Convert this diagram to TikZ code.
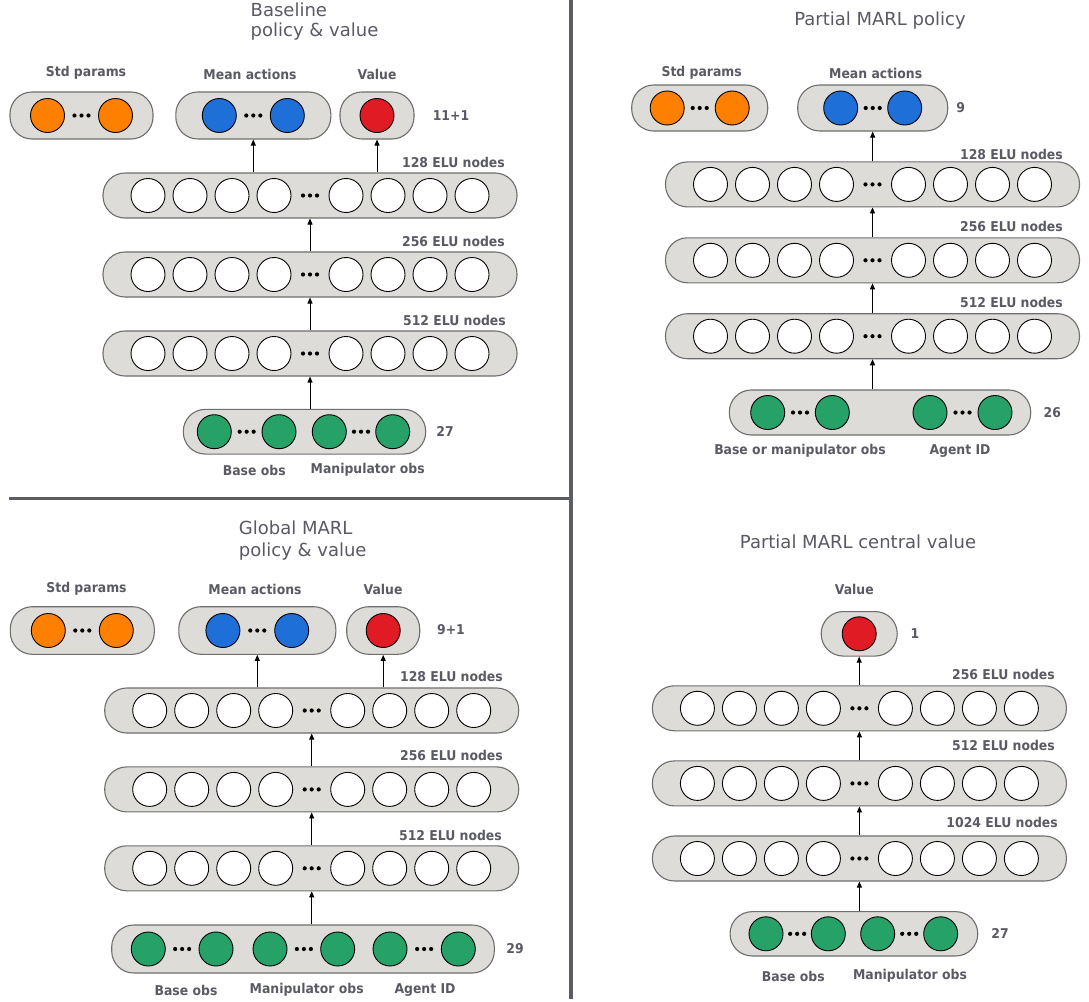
\documentclass[tikz,border=0pt]{standalone}
\usepackage{fontspec}
\setmainfont{DejaVu Sans}
\newfontfamily\lblfont{DejaVu Sans}[FakeStretch=0.92]
\usetikzlibrary{arrows.meta}
\definecolor{txt}{HTML}{5A5A64}
\definecolor{pillfill}{HTML}{DDDCD9}
\definecolor{pilldraw}{HTML}{6E6E6E}
\definecolor{cOrange}{HTML}{FF7F00}
\definecolor{cBlue}{HTML}{1E70D8}
\definecolor{cRed}{HTML}{E01B24}
\definecolor{cGreen}{HTML}{26A269}
\definecolor{divider}{HTML}{5C5C64}
\tikzset{
  pill/.style={draw=pilldraw, fill=pillfill, line width=1.1pt, rounded corners=22pt, minimum height=45pt, inner sep=0pt},
  neuron/.style={circle, draw=black, line width=0.9pt, minimum size=34pt, inner sep=0pt},
  lbl/.style={text=txt, font=\lblfont\bfseries\fontsize{13.5}{16}\selectfont, inner sep=0pt},
  ttl/.style={text=txt, font=\fontsize{18}{22}\selectfont, inner sep=0pt},
  arr/.style={-{Triangle[length=6pt,width=5pt]}, line width=0.9pt, black},
  ellip/.pic={\foreach \d in {-7,0,7} \fill[black] (\d pt,0pt) circle (2.1pt);}
}
% hidden layer: name, cx, cy
\newcommand\hlayer[3]{%
  \node[pill, minimum width=414pt, minimum height=45pt] (#1) at (#2,#3) {};
  \foreach \o [count=\k] in {-162,-120,-78,-36,36,78,120,162}
    \node[neuron, fill=white, xshift=\o pt] (#1-\k) at (#2,#3) {};
  \pic at (#2,#3) {ellip};
}
% output pill with two circles: name, cx, cy, width, height, half-sep, colour
\newcommand\pairpill[7]{%
  \node[pill, minimum width=#4pt, minimum height=#5pt] (#1) at (#2,#3) {};
  \node[neuron, fill=#7, xshift=-#6pt] (#1-a) at (#2,#3) {};
  \node[neuron, fill=#7, xshift=#6pt] (#1-b) at (#2,#3) {};
  \pic at (#2,#3) {ellip};
}
% single circle pill: name, cx, cy, width, height
\newcommand\valpill[5]{%
  \node[pill, minimum width=#4pt, minimum height=#5pt] (#1) at (#2,#3) {};
  \node[neuron, fill=cRed] (#1-a) at (#2,#3) {};
}
% pair of green circles inside an input pill: name, x1, x2, y
\newcommand\obspair[4]{%
  \node[neuron, fill=cGreen] (#1-a) at (#2,#4) {};
  \node[neuron, fill=cGreen] (#1-b) at (#3,#4) {};
  \pic at ({(#2+#3)/2},#4) {ellip};
}
\begin{document}
\begin{tikzpicture}[x=1pt, y=-1pt]
\useasboundingbox (0,0) rectangle (1089,1001);
\fill[white] (0,0) rectangle (1089,1001);

% dividers
\draw[line width=4pt, divider] (571,0) -- (571,999);
\draw[line width=3pt, divider] (9,498.2) -- (571,498.2);

% ================= Top-left: Baseline =================
\node[ttl, anchor=west] (tA1) at (250.5,10) {Baseline};
\node[ttl, anchor=west] (tA2) at (250.5,32) {policy \& value};
\node[lbl] (lAstd) at (86,73) {Std params};
\node[lbl] (lAmean) at (250,74) {Mean actions};
\node[lbl] (lAval) at (377,74) {Value};
\pairpill{astd}{81.5}{115.5}{143}{47}{34}{cOrange}
\pairpill{amean}{253.3}{115.5}{155}{47}{34}{cBlue}
\valpill{aval}{377}{115.5}{74}{47}
\node[lbl] (nA) at (451,115.5) {11+1};
\node[lbl, anchor=east] (eA1) at (505,162) {128 ELU nodes};
\node[lbl, anchor=east] (eA2) at (505,241) {256 ELU nodes};
\node[lbl, anchor=east] (eA3) at (506,320) {512 ELU nodes};
\hlayer{aL1}{310}{195.5}
\hlayer{aL2}{310}{274.5}
\hlayer{aL3}{310}{353.5}
\node[pill, minimum width=242.4pt, minimum height=44.7pt] (ain) at (304.5,431.7) {};
\obspair{ainb}{214.3}{279}{431.7}
\obspair{ainm}{329.3}{392.7}{431.7}
\node[lbl] (iA) at (445,431.7) {27};
\node[lbl] (bA1) at (254.3,470) {Base obs};
\node[lbl] (bA2) at (367.7,470) {Manipulator obs};
\draw[arr] (ain.north -| aL3) -- (aL3.south);
\draw[arr] (aL3.north) -- (aL2.south);
\draw[arr] (aL2.north) -- (aL1.south);
\draw[arr] (aL1.north -| amean) -- (amean.south);
\draw[arr] (aL1.north -| aval) -- (aval.south);

% ================= Top-right: Partial MARL policy =================
\node[ttl] (tB) at (880,20.7) {Partial MARL policy};
\node[lbl] (lBstd) at (701.7,72.3) {Std params};
\node[lbl] (lBmean) at (875.7,73) {Mean actions};
\pairpill{bstd}{699.7}{108}{136}{46}{32.5}{cOrange}
\pairpill{bmean}{872.7}{108}{150}{46}{32}{cBlue}
\node[lbl] (nB) at (960.7,108) {9};
\node[lbl, anchor=east] (eB1) at (1063,154.3) {128 ELU nodes};
\node[lbl, anchor=east] (eB2) at (1063,226) {256 ELU nodes};
\node[lbl, anchor=east] (eB3) at (1063,302.3) {512 ELU nodes};
\hlayer{bL1}{872.5}{184.4}
\hlayer{bL2}{872.5}{260.3}
\hlayer{bL3}{872.5}{336.2}
\node[pill, minimum width=301.4pt, minimum height=45pt] (bin) at (880,412.5) {};
\obspair{binb}{767.7}{832.3}{412.5}
\obspair{bina}{930}{995}{412.5}
\node[lbl] (iB) at (1052.3,412.7) {26};
\node[lbl] (bB1) at (800,450.7) {Base or manipulator obs};
\node[lbl] (bB2) at (960,450.7) {Agent ID};
\draw[arr] (bin.north -| bL3) -- (bL3.south);
\draw[arr] (bL3.north) -- (bL2.south);
\draw[arr] (bL2.north) -- (bL1.south);
\draw[arr] (bL1.north -| bmean) -- (bmean.south);

% ================= Bottom-left: Global MARL =================
\node[ttl, anchor=west] (tC1) at (238.7,528) {Global MARL};
\node[ttl, anchor=west] (tC2) at (238.7,551.7) {policy \& value};
\node[lbl] (lCstd) at (86.5,589) {Std params};
\node[lbl] (lCmean) at (255,589) {Mean actions};
\node[lbl] (lCval) at (383,589) {Value};
\pairpill{cstd}{82.3}{630.5}{144}{47.6}{34}{cOrange}
\pairpill{cmean}{257.3}{630.5}{157}{47.6}{34.4}{cBlue}
\valpill{cval}{383.2}{630.5}{73}{47.6}
\node[lbl] (nC) at (451,630) {9+1};
\node[lbl, anchor=east] (eC1) at (503,676.7) {128 ELU nodes};
\node[lbl, anchor=east] (eC2) at (503,755) {256 ELU nodes};
\node[lbl, anchor=east] (eC3) at (502,835) {512 ELU nodes};
\hlayer{cL1}{311.7}{710.5}
\hlayer{cL2}{311.7}{789.4}
\hlayer{cL3}{311.7}{868.3}
\node[pill, minimum width=382.6pt, minimum height=48pt] (cin) at (303,949) {};
\obspair{cinb}{148.3}{216}{949}
\obspair{cinm}{270}{337.7}{949}
\obspair{cina}{390}{458.3}{949}
\node[lbl] (iC) at (515,949) {29};
\node[lbl] (bC1) at (186,990) {Base obs};
\node[lbl] (bC2) at (306.7,990) {Manipulator obs};
\node[lbl] (bC3) at (425,990) {Agent ID};
\draw[arr] (cin.north -| cL3) -- (cL3.south);
\draw[arr] (cL3.north) -- (cL2.south);
\draw[arr] (cL2.north) -- (cL1.south);
\draw[arr] (cL1.north -| cmean) -- (cmean.south);
\draw[arr] (cL1.north -| cval) -- (cval.south);

% ================= Bottom-right: Partial MARL central value =================
\node[ttl] (tD) at (858,541.7) {Partial MARL central value};
\node[lbl] (lDval) at (854.3,589) {Value};
\valpill{dval}{859.2}{633.8}{76}{44.5}
\node[lbl] (nD) at (915,633.5) {1};
\node[lbl, anchor=east] (eD1) at (1055,674) {256 ELU nodes};
\node[lbl, anchor=east] (eD2) at (1055,745) {512 ELU nodes};
\node[lbl, anchor=east] (eD3) at (1058,822.7) {1024 ELU nodes};
\hlayer{dL1}{859.4}{708.3}
\hlayer{dL2}{859.4}{783.4}
\hlayer{dL3}{859.4}{858.5}
\node[pill, minimum width=247.7pt, minimum height=44.3pt] (din) at (853.9,933.8) {};
\obspair{dinb}{766}{828.3}{933.8}
\obspair{dinm}{877.7}{940.7}{933.8}
\node[lbl] (iD) at (1000,933) {27};
\node[lbl] (bD1) at (793.3,976) {Base obs};
\node[lbl] (bD2) at (910,976) {Manipulator obs};
\draw[arr] (din.north -| dL3) -- (dL3.south);
\draw[arr] (dL3.north) -- (dL2.south);
\draw[arr] (dL2.north) -- (dL1.south);
\draw[arr] (dL1.north -| dval) -- (dval.south);
\end{tikzpicture}
\end{document}
